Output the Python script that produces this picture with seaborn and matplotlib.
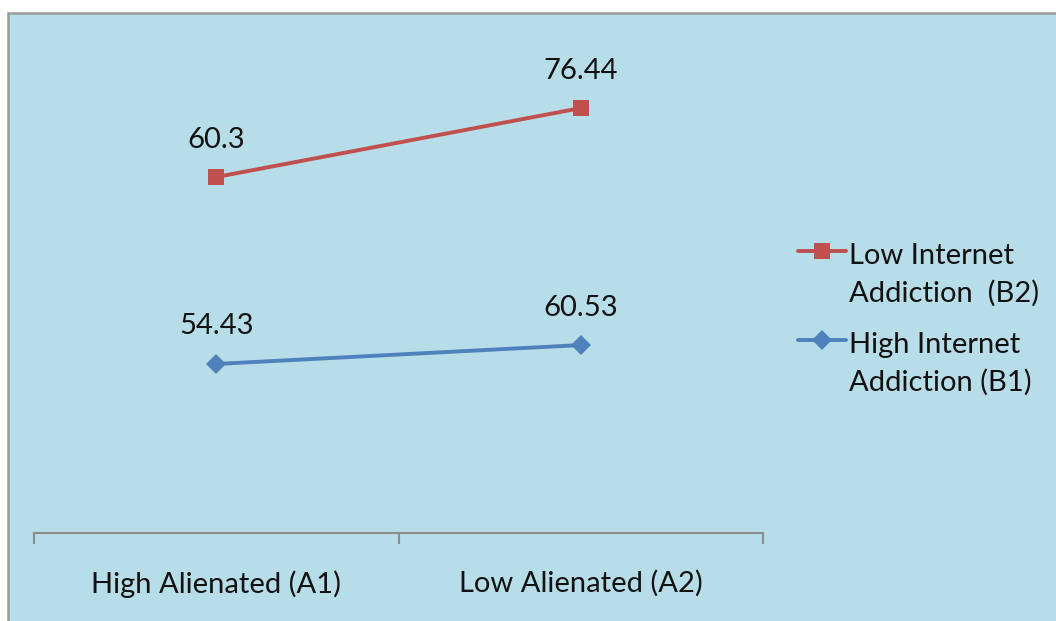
import matplotlib.pyplot as plt
import matplotlib.patches as patches
from matplotlib.legend_handler import HandlerLine2D
import numpy as np
import pandas as pd
import seaborn as sns

# Data (Excel stacked line chart: B2 sits on top of B1)
groups = ['High Alienated (A1)', 'Low Alienated (A2)']
high_addiction_b1 = [54.43, 60.53]
low_addiction_b2 = [60.3, 76.44]
legend_labels = ['Low Internet\nAddiction  (B2)', 'High Internet\nAddiction (B1)']

red = '#C0504D'
blue = '#4F81BD'
bg = '#B7DDE8'
fs = 21


# legend handle sits on the first text line, like Excel does
class FirstLineHandler(HandlerLine2D):
    def create_artists(self, legend, orig_handle, xdescent, ydescent, width, height, fontsize, trans):
        return super().create_artists(legend, orig_handle, xdescent, ydescent - 1.66 * fontsize,
                                      width, height, fontsize, trans)


sns.set_theme(style='white')
plt.rcParams['font.family'] = ['Lato', 'DejaVu Sans']

df = pd.DataFrame({'group': groups, 'b1': high_addiction_b1, 'b2': low_addiction_b2})
df['b2_stacked'] = df['b1'] + df['b2']

fig = plt.figure(figsize=(10.56, 6.21), dpi=100)
fig.patch.set_facecolor('white')
# chart area box, cropped on the right and bottom
fig.patches.append(patches.Rectangle((8 / 1056, -0.02), 1.05, (621 - 13) / 621 + 0.02,
                                     transform=fig.transFigure, facecolor=bg,
                                     edgecolor='#9A9A9A', linewidth=1.8, zorder=-5))

ax = fig.add_axes([34 / 1056, 88.3 / 621, 729 / 1056, 496 / 621])
ax.set_facecolor('none')
ax.set_zorder(2)

sns.lineplot(ax=ax, data=df, x='group', y='b2_stacked', color=red, linewidth=2.8,
             marker='s', markersize=12, markeredgewidth=0, label=legend_labels[0])
sns.lineplot(ax=ax, data=df, x='group', y='b1', color=blue, linewidth=2.8,
             marker='D', markersize=10, markeredgewidth=0, label=legend_labels[1])

# data labels show the raw (unstacked) values
for i in range(len(groups)):
    ax.annotate(f"{low_addiction_b2[i]:g}", (i, df['b2_stacked'][i]), xytext=(0, 27),
                textcoords='offset points', ha='center', va='center', fontsize=fs, color='#111111')
    ax.annotate(f"{high_addiction_b1[i]:g}", (i, df['b1'][i]), xytext=(0, 27),
                textcoords='offset points', ha='center', va='center', fontsize=fs, color='#111111')

ax.set_xlim(-0.5, 1.5)
ax.set_ylim(0, 160)
ax.set_yticks([])
ax.set_xlabel('')
ax.set_ylabel('')
for s in ['top', 'left', 'right']:
    ax.spines[s].set_visible(False)
ax.spines['bottom'].set_color('#8C8C8C')
ax.spines['bottom'].set_linewidth(1.5)

ax.set_xticks([-0.5, 0.5, 1.5])
ax.set_xticklabels([])
ax.set_xticks([0, 1], minor=True)
ax.set_xticklabels(groups, minor=True, fontsize=fs, color='#111111')
ax.tick_params(axis='x', which='major', length=8, width=1.5, color='#8C8C8C', direction='out', bottom=True)
ax.tick_params(axis='x', which='minor', length=0, pad=27)

handles, labels = ax.get_legend_handles_labels()
leg = ax.legend(handles, labels, loc='center left', bbox_to_anchor=(1.048, 0.43), frameon=False,
                fontsize=fs, handlelength=1.65, handletextpad=0.1, labelspacing=0.85,
                borderpad=0, borderaxespad=0, labelcolor='#111111',
                handler_map={h: FirstLineHandler() for h in handles})
for t in leg.get_texts():
    t.set_linespacing(1.52)

fig.savefig('out.png', dpi=100)
